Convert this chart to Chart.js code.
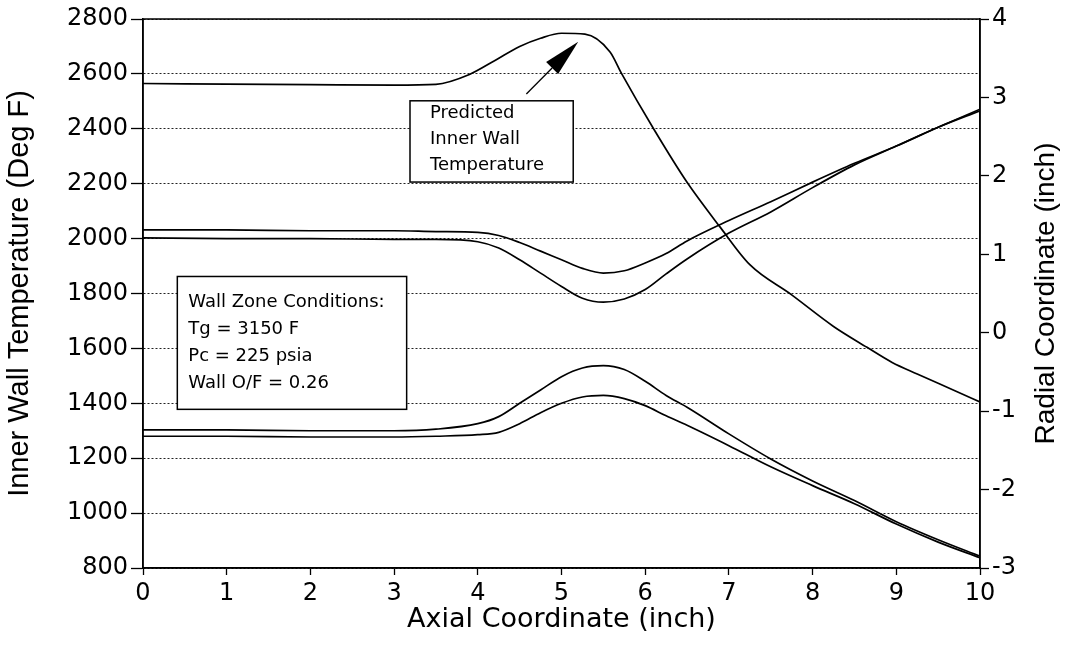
<!DOCTYPE html>
<html>
<head>
<meta charset="utf-8">
<script src="https://cdn.jsdelivr.net/npm/chart.js@4.4.1/dist/chart.umd.min.js"></script>
<style>
    html, body { margin: 0; padding: 0; background: #fff; }
    #wrap { width: 1075px; height: 656px; }
</style>
</head>
<body>
<div id="wrap"><canvas id="wallChart" width="1075" height="656"></canvas></div>
<script>
// Predicted inner wall temperature (Deg F) vs axial coordinate (inch)
const axialTemp = [0, 1, 2, 3, 3.5, 3.9, 4.2, 4.5, 4.75, 5.0, 5.28, 5.58, 5.72, 6.1, 6.5, 6.9, 7.25, 7.75, 8.25, 8.65, 8.95, 9.25, 9.7, 10];
const wallTemp = [2565, 2563, 2561, 2559, 2562, 2598, 2648, 2700, 2730, 2748, 2745, 2680, 2600, 2400, 2205, 2040, 1905, 1795, 1680, 1604, 1549, 1507, 1446, 1405];

// Nozzle wall contours (radial coordinate, inch)
const axialContour = [0, 1, 2, 3, 3.5, 4, 4.25, 4.5, 4.75, 5, 5.25, 5.5, 5.75, 6, 6.25, 6.5, 7, 7.5, 8, 8.5, 9, 9.5, 10];
const upperOuter = [1.31, 1.31, 1.30, 1.30, 1.29, 1.28, 1.24, 1.15, 1.04, 0.93, 0.82, 0.76, 0.79, 0.89, 1.01, 1.17, 1.43, 1.67, 1.92, 2.16, 2.38, 2.62, 2.85];
const upperInner = [1.21, 1.20, 1.20, 1.19, 1.19, 1.16, 1.08, 0.93, 0.76, 0.59, 0.44, 0.39, 0.43, 0.55, 0.75, 0.94, 1.27, 1.54, 1.85, 2.14, 2.38, 2.62, 2.83];
const lowerInner = [-1.24, -1.24, -1.25, -1.25, -1.23, -1.16, -1.07, -0.90, -0.73, -0.56, -0.45, -0.42, -0.47, -0.62, -0.80, -0.95, -1.29, -1.61, -1.89, -2.14, -2.41, -2.64, -2.85];
const lowerOuter = [-1.32, -1.32, -1.33, -1.33, -1.32, -1.30, -1.27, -1.16, -1.02, -0.90, -0.82, -0.80, -0.84, -0.93, -1.06, -1.18, -1.44, -1.71, -1.95, -2.18, -2.44, -2.67, -2.87];

const conditionLines = ['Wall Zone Conditions:', 'Tg = 3150 F', 'Pc = 225 psia', 'Wall O/F = 0.26'];
const predictedLines = ['Predicted', 'Inner Wall', 'Temperature'];

// note boxes, in axis units
const wallNote = { x0: 0.41, x1: 3.15, yTop: 1862, yBot: 1378, padX: 11, first: 26, gap: 27, lines: conditionLines };
const predNote = { x0: 3.19, x1: 5.14, yTop: 2502, yBot: 2206, padX: 20, first: 13, gap: 26, lines: predictedLines };
const arrowTail = { x: 4.58, y: 2527 };
const arrowTip = { x: 5.2, y: 2717 };

const pairs = (xs, ys) => xs.map((x, i) => ({ x: x, y: ys[i] }));

function lineSet(label, xs, ys, axis) {
    return {
        label: label,
        data: pairs(xs, ys),
        yAxisID: axis,
        borderColor: '#000',
        borderWidth: 1.7,
        pointRadius: 0,
        fill: false,
        cubicInterpolationMode: 'monotone'
    };
}

function drawNote(ctx, sx, sy, note) {
    const left = sx.getPixelForValue(note.x0);
    const right = sx.getPixelForValue(note.x1);
    const top = sy.getPixelForValue(note.yTop);
    const bottom = sy.getPixelForValue(note.yBot);
    ctx.fillStyle = '#fff';
    ctx.fillRect(left, top, right - left, bottom - top);
    ctx.strokeStyle = '#000';
    ctx.lineWidth = 1.5;
    ctx.strokeRect(left, top, right - left, bottom - top);
    ctx.fillStyle = '#000';
    ctx.font = '18px "DejaVu Sans"';
    ctx.textAlign = 'left';
    ctx.textBaseline = 'middle';
    note.lines.forEach((txt, i) => {
        ctx.fillText(txt, left + note.padX, top + note.first + i * note.gap);
    });
}

const overlay = {
    id: 'overlay',
    afterDatasetsDraw(chart) {
        const { ctx, chartArea, scales } = chart;
        const sx = scales.x, sy = scales.yTemp;
        ctx.save();
        // plot frame
        ctx.strokeStyle = '#000';
        ctx.lineWidth = 1.5;
        ctx.strokeRect(chartArea.left, chartArea.top, chartArea.width, chartArea.height);

        drawNote(ctx, sx, sy, wallNote);
        drawNote(ctx, sx, sy, predNote);

        // arrow to the temperature peak
        const tx = sx.getPixelForValue(arrowTail.x), ty = sy.getPixelForValue(arrowTail.y);
        const px = sx.getPixelForValue(arrowTip.x), py = sy.getPixelForValue(arrowTip.y);
        const ang = Math.atan2(py - ty, px - tx);
        const headLen = 37, headHalf = 8.5;
        const bx = px - headLen * Math.cos(ang), by = py - headLen * Math.sin(ang);
        ctx.beginPath();
        ctx.moveTo(tx, ty);
        ctx.lineTo(bx, by);
        ctx.lineWidth = 1.3;
        ctx.stroke();
        ctx.beginPath();
        ctx.moveTo(px, py);
        ctx.lineTo(bx + headHalf * Math.sin(ang), by - headHalf * Math.cos(ang));
        ctx.lineTo(bx - headHalf * Math.sin(ang), by + headHalf * Math.cos(ang));
        ctx.closePath();
        ctx.fillStyle = '#000';
        ctx.fill();

        // right axis title reads bottom-to-top like the left one
        ctx.translate(1046, (chartArea.top + chartArea.bottom) / 2);
        ctx.rotate(-Math.PI / 2);
        ctx.font = '28px "Liberation Sans"';
        ctx.textAlign = 'center';
        ctx.textBaseline = 'middle';
        ctx.fillText('Radial Coordinate (inch)', 0, 0);
        ctx.restore();
    }
};

const ctx = document.getElementById('wallChart').getContext('2d');
const wallChart = new Chart(ctx, {
    type: 'line',
    data: {
        datasets: [
            lineSet('Inner Wall Temperature', axialTemp, wallTemp, 'yTemp'),
            lineSet('Upper outer', axialContour, upperOuter, 'yRad'),
            lineSet('Upper inner', axialContour, upperInner, 'yRad'),
            lineSet('Lower inner', axialContour, lowerInner, 'yRad'),
            lineSet('Lower outer', axialContour, lowerOuter, 'yRad')
        ]
    },
    options: {
        responsive: false,
        animation: false,
        layout: { padding: { top: 19, left: 0, right: 0, bottom: 0 } },
        plugins: {
            legend: { display: false },
            tooltip: { enabled: false }
        },
        scales: {
            x: {
                type: 'linear',
                min: 0,
                max: 10,
                afterFit: (s) => { s.height = 88; },
                ticks: {
                    stepSize: 1,
                    color: '#000',
                    padding: 4,
                    maxRotation: 0,
                    font: { family: 'DejaVu Sans', size: 24 }
                },
                grid: { drawOnChartArea: false, tickLength: 7, tickColor: '#000', tickWidth: 1.3 },
                border: { color: '#000', width: 1.5 },
                title: {
                    display: true,
                    text: 'Axial Coordinate (inch)',
                    color: '#000',
                    font: { family: 'DejaVu Sans', size: 27 },
                    padding: { top: 0, bottom: 20 }
                }
            },
            yTemp: {
                type: 'linear',
                position: 'left',
                min: 800,
                max: 2800,
                afterFit: (s) => { s.width = 143; },
                ticks: {
                    stepSize: 200,
                    color: '#000',
                    padding: 3,
                    font: { family: 'DejaVu Sans', size: 24 },
                    callback: (value) => String(value)
                },
                grid: { color: '#222', lineWidth: 1, tickLength: 12, tickColor: '#000', tickWidth: 1.3, tickBorderDash: [] },
                border: { color: '#000', width: 1.5, dash: [2, 2] },
                title: {
                    display: true,
                    text: 'Inner Wall Temperature (Deg F)',
                    color: '#000',
                    font: { family: 'Liberation Sans', size: 29 },
                    padding: { top: 3, bottom: 0 }
                }
            },
            yRad: {
                type: 'linear',
                position: 'right',
                min: -3,
                max: 4,
                afterFit: (s) => { s.width = 95; },
                ticks: {
                    stepSize: 1,
                    color: '#000',
                    padding: 3,
                    font: { family: 'DejaVu Sans', size: 24 }
                },
                grid: { drawOnChartArea: false, tickLength: 9, tickColor: '#000', tickWidth: 1.3 },
                border: { color: '#000', width: 1.5 }
            }
        }
    },
    plugins: [overlay]
});
</script>
</body>
</html>
